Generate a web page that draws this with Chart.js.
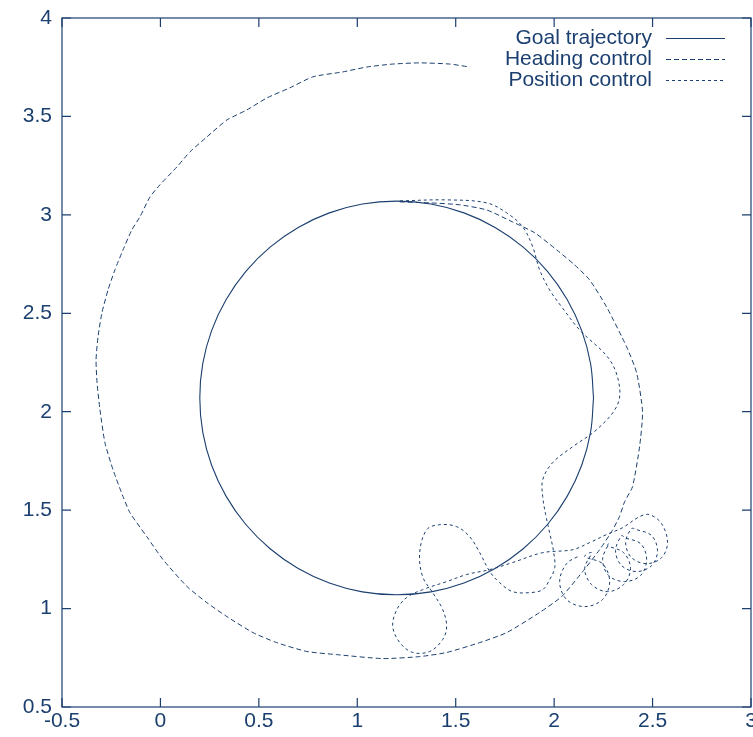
<!DOCTYPE html>
<html>
<head>
    <title>Goal trajectory tracking</title>
    <style>
        body {
            margin: 0;
            background-color: white;
        }
        #wrap {
            width: 753px;
            height: 737px;
        }
    </style>
</head>
<body>
    <div id="wrap">
        <canvas id="trackChart" width="753" height="737"></canvas>
    </div>

    <script src="https://cdn.jsdelivr.net/npm/chart.js"></script>
    <script>
    // ticks
    const xTicks = [-0.5, 0, 0.5, 1, 1.5, 2, 2.5, 3];
    const yTicks = [0.5, 1, 1.5, 2, 2.5, 3, 3.5, 4];

    // goal trajectory (circle)
    const goalX = [2.2, 2.185, 2.14, 2.066, 1.966, 1.843, 1.7, 1.542, 1.374, 1.2,
                   1.026, 0.858, 0.7, 0.557, 0.434, 0.334, 0.26, 0.215, 0.2,
                   0.215, 0.26, 0.334, 0.434, 0.557, 0.7, 0.858, 1.026, 1.2,
                   1.374, 1.542, 1.7, 1.843, 1.966, 2.066, 2.14, 2.185, 2.2];
    const goalY = [2.07, 2.244, 2.412, 2.57, 2.713, 2.836, 2.936, 3.01, 3.055, 3.07,
                   3.055, 3.01, 2.936, 2.836, 2.713, 2.57, 2.412, 2.244, 2.07,
                   1.896, 1.728, 1.57, 1.427, 1.304, 1.204, 1.13, 1.085, 1.07,
                   1.085, 1.13, 1.204, 1.304, 1.427, 1.57, 1.728, 1.896, 2.07];

    // heading control
    const headingX = [1.216, 1.368, 1.520, 1.657, 1.789, 1.901, 2.013, 2.104, 2.180, 2.266,
                      2.368, 2.419, 2.449, 2.434, 2.398, 2.358, 2.332, 2.292, 2.231, 2.145,
                      2.038, 1.926, 1.759, 1.622, 1.454, 1.317, 1.129, 0.896, 0.744, 0.591,
                      0.470, 0.338, 0.236, 0.135, 0.013, -0.069, -0.155, -0.190, -0.241, -0.282,
                      -0.307, -0.322, -0.327, -0.317, -0.297, -0.266, -0.231, -0.190, -0.145, -0.104,
                      -0.053, -0.003, 0.084, 0.150, 0.236, 0.338, 0.439, 0.541, 0.657, 0.774,
                      0.926, 1.048, 1.180, 1.317, 1.470, 1.571];
    const headingY = [3.066, 3.061, 3.051, 3.025, 2.964, 2.909, 2.822, 2.746, 2.670, 2.533,
                      2.330, 2.198, 2.000, 1.822, 1.619, 1.543, 1.467, 1.391, 1.299, 1.188,
                      1.061, 0.980, 0.878, 0.827, 0.777, 0.756, 0.746, 0.766, 0.782, 0.827,
                      0.878, 0.959, 1.030, 1.112, 1.249, 1.365, 1.487, 1.569, 1.706, 1.843,
                      2.010, 2.147, 2.264, 2.381, 2.503, 2.619, 2.721, 2.822, 2.924, 2.990,
                      3.091, 3.152, 3.244, 3.320, 3.396, 3.482, 3.533, 3.594, 3.645, 3.701,
                      3.726, 3.751, 3.766, 3.772, 3.766, 3.751];

    // position control
    const positionX = [1.216, 1.454, 1.657, 1.759, 1.840, 1.891, 1.926, 1.977, 2.038, 2.129,
                       2.282, 2.332, 2.317, 2.216, 2.094, 1.992, 1.942, 1.942, 1.957, 1.977,
                       1.997, 2.003, 1.977, 1.942, 1.876, 1.789, 1.723, 1.673, 1.622, 1.571,
                       1.505, 1.419, 1.353, 1.317, 1.332, 1.383, 1.434, 1.454, 1.434, 1.368,
                       1.282, 1.216, 1.180, 1.201, 1.251, 1.332, 1.454, 1.556, 1.673, 1.789,
                       1.942, 2.094, 2.180, 2.266, 2.348, 2.434, 2.485,
                       2.546, 2.576, 2.546, 2.470, 2.393, 2.363, 2.393,
                       2.419, 2.495, 2.525, 2.495, 2.419, 2.343, 2.312, 2.343,
                       2.358, 2.439, 2.470, 2.439, 2.358, 2.277, 2.246, 2.277,
                       2.272, 2.353, 2.388, 2.353, 2.272, 2.190, 2.155, 2.190,
                       2.155, 2.246, 2.282, 2.246, 2.155, 2.063, 2.028, 2.063, 2.129];
    const positionY = [3.071, 3.076, 3.061, 3.010, 2.939, 2.838, 2.721, 2.619, 2.533, 2.416,
                       2.264, 2.127, 2.025, 1.909, 1.822, 1.741, 1.655, 1.569, 1.477, 1.386,
                       1.289, 1.208, 1.147, 1.096, 1.081, 1.086, 1.132, 1.188, 1.284, 1.365,
                       1.416, 1.426, 1.401, 1.284, 1.162, 1.081, 0.995, 0.909, 0.843, 0.782,
                       0.777, 0.827, 0.909, 0.995, 1.056, 1.096, 1.137, 1.173, 1.198, 1.234,
                       1.284, 1.299, 1.335, 1.376, 1.411, 1.467, 1.477,
                       1.431, 1.335, 1.259, 1.228, 1.259, 1.335, 1.406,
                       1.401, 1.371, 1.294, 1.218, 1.188, 1.218, 1.294, 1.371,
                       1.360, 1.330, 1.249, 1.168, 1.137, 1.168, 1.249, 1.330,
                       1.320, 1.284, 1.203, 1.122, 1.086, 1.122, 1.203, 1.284,
                       1.264, 1.228, 1.137, 1.046, 1.010, 1.046, 1.137, 1.228, 1.269];

    const navy = '#1b3f6f';
    const fontFamily = '"Liberation Sans", Arial, sans-serif';

    function toPoints(xs, ys) {
        return xs.map((x, i) => ({ x: x, y: ys[i] }));
    }

    // frame with inward ticks on all sides, plus gnuplot-like legend
    const framePlugin = {
        id: 'frame',
        afterDraw(chart) {
            const ctx = chart.ctx;
            const a = chart.chartArea;
            const xs = chart.scales.x, ys = chart.scales.y;
            ctx.save();
            ctx.strokeStyle = navy;
            ctx.lineWidth = 1.2;
            ctx.setLineDash([]);
            ctx.strokeRect(a.left, a.top, a.right - a.left, a.bottom - a.top);
            ctx.beginPath();
            xTicks.forEach(v => {
                const px = xs.getPixelForValue(v);
                ctx.moveTo(px, a.bottom); ctx.lineTo(px, a.bottom - 9);
                ctx.moveTo(px, a.top); ctx.lineTo(px, a.top + 9);
            });
            yTicks.forEach(v => {
                const py = ys.getPixelForValue(v);
                ctx.moveTo(a.left, py); ctx.lineTo(a.left + 9, py);
                ctx.moveTo(a.right, py); ctx.lineTo(a.right - 9, py);
            });
            ctx.stroke();

            // legend
            ctx.font = '21px ' + fontFamily;
            ctx.fillStyle = navy;
            ctx.textAlign = 'right';
            ctx.textBaseline = 'middle';
            ctx.lineWidth = 1;
            chart.data.datasets.forEach((ds, i) => {
                const ly = 38 + i * 21;
                ctx.fillText(ds.label, 652, ly);
                ctx.beginPath();
                ctx.setLineDash(ds.borderDash || []);
                ctx.moveTo(666, ly + 0.5);
                ctx.lineTo(725, ly + 0.5);
                ctx.stroke();
            });
            ctx.restore();
        }
    };

    new Chart(document.getElementById('trackChart'), {
        type: 'scatter',
        data: {
            datasets: [
                { label: 'Goal trajectory', data: toPoints(goalX, goalY), showLine: true,
                  borderColor: navy, borderWidth: 1.1, pointRadius: 0, tension: 0.4, borderDash: [] },
                { label: 'Heading control', data: toPoints(headingX, headingY), showLine: true,
                  borderColor: navy, borderWidth: 1, pointRadius: 0, tension: 0.2, borderDash: [5, 3] },
                { label: 'Position control', data: toPoints(positionX, positionY), showLine: true,
                  borderColor: navy, borderWidth: 1, pointRadius: 0, tension: 0.35, borderDash: [3, 3] }
            ]
        },
        options: {
            responsive: false,
            animation: false,
            layout: { padding: { left: 0, right: 2, top: 18, bottom: 0 } },
            plugins: {
                legend: { display: false },
                tooltip: { enabled: false }
            },
            scales: {
                x: {
                    type: 'linear',
                    min: -0.5, max: 3,
                    grid: { display: false, drawTicks: false },
                    border: { display: false },
                    afterBuildTicks: s => { s.ticks = xTicks.map(v => ({ value: v })); },
                    afterFit: s => { s.height = 30; s.paddingLeft = 0; s.paddingRight = 0; },
                    ticks: { color: navy, font: { family: fontFamily, size: 21 }, padding: 2,
                             maxRotation: 0, autoSkip: false, callback: v => String(v) }
                },
                y: {
                    type: 'linear',
                    min: 0.5, max: 4,
                    grid: { display: false, drawTicks: false },
                    border: { display: false },
                    afterBuildTicks: s => { s.ticks = yTicks.map(v => ({ value: v })); },
                    afterFit: s => { s.width = 62; s.paddingTop = 0; s.paddingBottom = 0; },
                    ticks: { color: navy, font: { family: fontFamily, size: 21 }, padding: 10,
                             autoSkip: false, callback: v => String(v) }
                }
            }
        },
        plugins: [framePlugin]
    });
    </script>
</body>
</html>
